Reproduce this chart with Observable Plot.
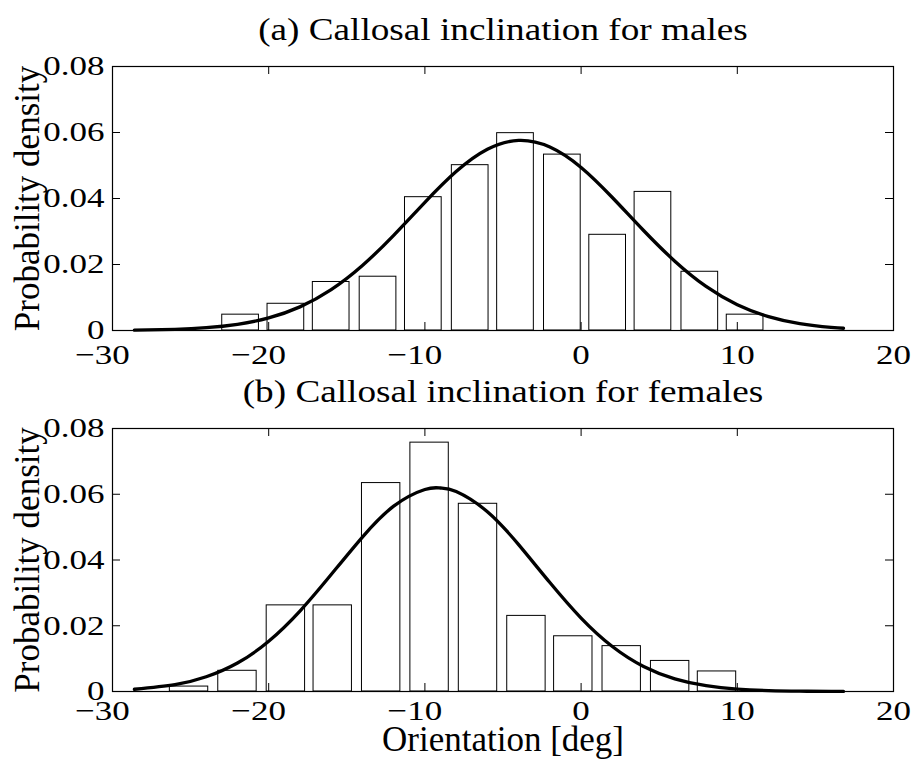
<!DOCTYPE html>
<html><head><meta charset="utf-8">
<script src="https://cdn.jsdelivr.net/npm/d3@7"></script>
<script src="https://cdn.jsdelivr.net/npm/@observablehq/plot@0.6"></script>
<style>
html,body{margin:0;padding:0;background:#fff;}
#chart{width:916px;}
#chart svg{display:block;}
</style></head><body><div id="chart"></div>
<script>
// ---- data ----
const xTicks = [-30, -20, -10, 0, 10, 20];
const xTickLabels = ["−30", "−20", "−10", "0", "10", "20"];
const yTicks = [0, 0.02, 0.04, 0.06, 0.08];
const yTickLabels = ["0", "0.02", "0.04", "0.06", "0.08"];

const maleTitle = "(a) Callosal inclination for males";
const femaleTitle = "(b) Callosal inclination for females";
const yLabel = "Probability density";
const xLabel = "Orientation [deg]";

const maleBinCenters = [-21.8, -18.9, -16.0, -13.0, -10.1, -7.1, -4.2, -1.2, 1.7, 4.6, 7.6, 10.5];
const maleDensity = [0.0048, 0.0081, 0.0147, 0.0163, 0.0404, 0.0501, 0.0598, 0.0533, 0.0290, 0.0420, 0.0178, 0.0048];

const femaleBinCenters = [-25.1, -22.0, -18.9, -15.9, -12.8, -9.7, -6.6, -3.5, -0.5, 2.6, 5.7, 8.7];
const femaleDensity = [0.0015, 0.0063, 0.0262, 0.0262, 0.0634, 0.0757, 0.0571, 0.0230, 0.0168, 0.0138, 0.0093, 0.0061];

const maleCurveX = [-28.6, -26, -24, -22, -20, -18, -16, -14, -12, -10, -8, -6, -4, -2, 0, 2, 4, 6, 8, 10, 12, 14, 16, 16.8];
const maleCurveY = [0.0001, 0.00035, 0.00084, 0.00187, 0.00381, 0.00716, 0.01239, 0.0197, 0.02885, 0.03885, 0.04815, 0.0549, 0.0576, 0.0556, 0.0494, 0.0403, 0.0303, 0.0210, 0.01335, 0.00782, 0.00421, 0.00209, 0.00095, 0.00068];

const femaleCurveX = [-28.6, -26, -24, -22, -20, -18, -16, -14, -12, -10, -9, -8, -6, -4, -2, 0, 2, 4, 6, 8, 10, 12, 14, 16, 16.8];
const femaleCurveY = [0.00068, 0.00209, 0.00447, 0.00866, 0.01528, 0.02446, 0.03557, 0.04698, 0.05637, 0.06144, 0.0619, 0.06082, 0.05469, 0.04467, 0.03314, 0.02233, 0.01367, 0.0076, 0.00384, 0.00176, 0.00073, 0.00028, 0.0001, 0.00003, 0.00002];

// ---- drawing ----
const FONT = '"Liberation Serif", "Times New Roman", Times, serif';
const W = 916, ML = 112, MR = 23;
const TICK = 8;

function panel({centers, density, curveX, curveY, title, height, marginTop, marginBottom, showXLabel, xPad}) {
  const step = (centers[centers.length - 1] - centers[0]) / (centers.length - 1);
  const half = step * 0.8 / 2;
  const bars = centers.map((c, i) => ({x1: c - half, x2: c + half, y: density[i]}));
  const curve = curveX.map((x, i) => ({x, y: curveY[i]}));
  const fh = height - marginTop - marginBottom;
  const fw = W - ML - MR;
  const fmtX = d => xTickLabels[xTicks.indexOf(d)];
  const fmtY = d => yTickLabels[yTicks.indexOf(d)];
  return Plot.plot({
    width: W, height, marginTop, marginBottom, marginLeft: ML, marginRight: MR,
    style: {fontFamily: FONT, fontSize: "28px", background: "white", color: "black"},
    x: {domain: [-30, 20], label: null},
    y: {domain: [0, 0.08], label: null},
    marks: [
      Plot.rectY(bars, {x1: "x1", x2: "x2", y: "y", fill: "white", stroke: "black", strokeWidth: 1}),
      Plot.line(curve, {x: "x", y: "y", stroke: "black", strokeWidth: 3.3, curve: "natural"}),
      Plot.frame({stroke: "black", strokeWidth: 1.2}),
      Plot.ruleX(xTicks, {insetTop: fh - TICK, stroke: "black", strokeWidth: 1}),
      Plot.ruleX(xTicks, {insetBottom: fh - TICK, stroke: "black", strokeWidth: 1}),
      Plot.ruleY(yTicks, {insetRight: fw - TICK, stroke: "black", strokeWidth: 1}),
      Plot.ruleY(yTicks, {insetLeft: fw - TICK, stroke: "black", strokeWidth: 1}),
      Plot.axisX({ticks: xTicks.filter(t => t >= 0), tickSize: 0, tickPadding: xPad, tickFormat: fmtX, label: null, fontSize: 28}),
      Plot.axisX({ticks: xTicks.filter(t => t < 0), tickSize: 0, tickPadding: xPad, tickFormat: fmtX, label: null, fontSize: 28, dx: -10}),
      Plot.axisY({ticks: yTicks, tickSize: 0, tickPadding: 8, tickFormat: fmtY, label: null, fontSize: 28}),
      Plot.text([title], {frameAnchor: "top", lineAnchor: "middle", textAnchor: "middle", dy: -36, fontSize: 31, fill: "black"}),
      Plot.text([yLabel], {frameAnchor: "left", lineAnchor: "middle", textAnchor: "middle", rotate: -90, dx: -84.5, fontSize: 35, fill: "black"}),
      showXLabel ? Plot.text([xLabel], {frameAnchor: "bottom", lineAnchor: "middle", textAnchor: "middle", dy: 48, fontSize: 35, fill: "black"}) : null
    ]
  });
}

function stretchWhere(svg, test, s) {
  svg.querySelectorAll("text").forEach(t => {
    if (!test(t)) return;
    const tr = t.getAttribute("transform") || "";
    t.setAttribute("transform", `${tr} scale(${s},1)`);
  });
}

const chart = document.getElementById("chart");
const p1 = panel({centers: maleBinCenters, density: maleDensity, curveX: maleCurveX, curveY: maleCurveY,
  title: maleTitle, height: 375, marginTop: 66, marginBottom: 45, showXLabel: false, xPad: 14});
const p2 = panel({centers: femaleBinCenters, density: femaleDensity, curveX: femaleCurveX, curveY: femaleCurveY,
  title: femaleTitle, height: 398, marginTop: 53, marginBottom: 82, showXLabel: true, xPad: 9});
const tickTexts = new Set([...xTickLabels, ...yTickLabels]);
const titles = new Set([maleTitle, femaleTitle]);
for (const p of [p1, p2]) {
  stretchWhere(p, t => tickTexts.has(t.textContent), 1.25);
  stretchWhere(p, t => titles.has(t.textContent), 1.2);
  chart.appendChild(p);
}
</script></body></html>
